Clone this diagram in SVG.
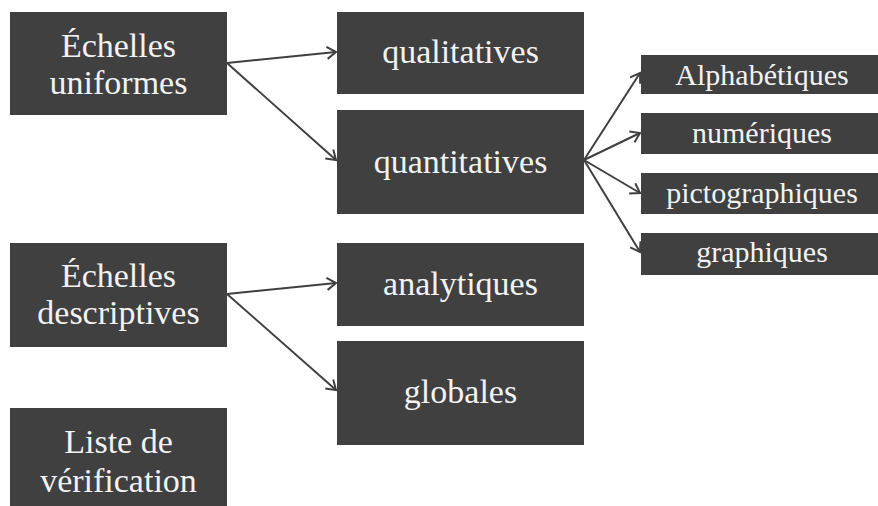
<svg xmlns="http://www.w3.org/2000/svg" width="878" height="506" viewBox="0 0 878 506">
<style>
.box{fill:#404040}
.t{font-family:"Liberation Serif","Times New Roman",serif;fill:#f2f2f2;text-anchor:middle;font-size:34px}
.s{font-size:30px}
.c{stroke:#404040;stroke-width:2;fill:none;marker-end:url(#ah)}
</style>
<defs>
<marker id="ah" markerUnits="userSpaceOnUse" markerWidth="14" markerHeight="16" refX="11" refY="7" orient="auto" viewBox="0 0 14 14">
<path d="M2,1 L11,7 L2,13" fill="none" stroke="#404040" stroke-width="2"/>
</marker>
</defs>
<rect width="878" height="506" fill="#ffffff"/>
<g id="connectors">
<line class="c" x1="227" y1="63" x2="336" y2="52"/>
<line class="c" x1="227" y1="63" x2="336" y2="160"/>
<line class="c" x1="584" y1="160" x2="640" y2="73"/>
<line class="c" x1="584" y1="160" x2="640" y2="133"/>
<line class="c" x1="584" y1="160" x2="640" y2="193"/>
<line class="c" x1="584" y1="160" x2="640" y2="252"/>
<line class="c" x1="227" y1="294" x2="336" y2="283"/>
<line class="c" x1="227" y1="294" x2="336" y2="390"/>
</g>
<g id="echelles-uniformes">
<rect class="box" x="10" y="12" width="217" height="103"/>
<text class="t" x="118.5" y="57">Échelles</text>
<text class="t" x="118.5" y="94">uniformes</text>
</g>
<g id="qualitatives">
<rect class="box" x="337" y="12" width="247" height="82"/>
<text class="t" x="460.5" y="63">qualitatives</text>
</g>
<g id="quantitatives">
<rect class="box" x="337" y="110" width="247" height="104"/>
<text class="t" x="460.5" y="173">quantitatives</text>
</g>
<g id="alphabetiques">
<rect class="box" x="641" y="55" width="237" height="39"/>
<text class="t s" x="762" y="85">Alphabétiques</text>
</g>
<g id="numeriques">
<rect class="box" x="641" y="113" width="237" height="41"/>
<text class="t s" x="762" y="143">numériques</text>
</g>
<g id="pictographiques">
<rect class="box" x="641" y="173" width="237" height="41"/>
<text class="t s" x="762" y="203">pictographiques</text>
</g>
<g id="graphiques">
<rect class="box" x="641" y="233" width="237" height="42"/>
<text class="t s" x="762" y="262">graphiques</text>
</g>
<g id="echelles-descriptives">
<rect class="box" x="10" y="243" width="217" height="104"/>
<text class="t" x="118.5" y="287">Échelles</text>
<text class="t" x="118.5" y="324">descriptives</text>
</g>
<g id="analytiques">
<rect class="box" x="337" y="243" width="247" height="83"/>
<text class="t" x="460.5" y="295">analytiques</text>
</g>
<g id="globales">
<rect class="box" x="337" y="341" width="247" height="104"/>
<text class="t" x="460.5" y="403">globales</text>
</g>
<g id="liste-de-verification">
<rect class="box" x="10" y="408" width="217" height="98"/>
<text class="t" x="118.5" y="453">Liste de</text>
<text class="t" x="118.5" y="492">vérification</text>
</g>
</svg>
